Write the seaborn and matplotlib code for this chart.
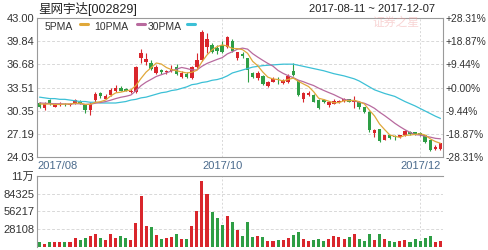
import numpy as np
import pandas as pd
import matplotlib
matplotlib.use("Agg")
import matplotlib.pyplot as plt
from matplotlib.lines import Line2D
import seaborn as sns

# ---------------- data ----------------
title = "星网宇达[002829]"
date_range = "2017-08-11 ~ 2017-12-07"
watermark = "证券之星"

opens = [31.4, 30.7, 31.8, 30.9, 31.2, 31.3, 31.1, 31.4, 31.6, 31.1,
         30.4, 31.8, 32.7, 32.0, 32.5, 33.0, 33.5, 33.3, 32.9, 32.9,
         37.5, 37.0, 36.9, 35.5, 35.9, 35.6, 35.7, 36.3, 34.9, 35.4,
         34.8, 36.3, 37.3, 39.1, 39.3, 38.9, 39.3, 39.1, 39.9, 37.6,
         38.1, 37.5, 35.5, 34.8, 35.1, 33.7, 34.3, 34.6, 34.1, 34.2,
         35.7, 34.5, 32.0, 32.45, 32.5, 31.8, 31.8, 31.1, 31.3, 31.55,
         31.7, 31.9, 31.6, 31.55, 30.8, 30.2, 27.25, 27.8, 26.4, 27.0,
         26.9, 26.7, 27.0, 27.5, 27.4, 27.3, 27.0, 26.3, 25.1, 25.1]
closes = [30.9, 31.3, 31.3, 31.2, 31.3, 31.2, 31.3, 31.8, 31.3, 30.4,
          31.3, 32.6, 32.3, 32.4, 33.2, 33.4, 33.1, 33.1, 33.1, 36.3,
          38.2, 37.4, 36.1, 36.3, 35.6, 35.8, 36.0, 35.3, 35.5, 34.9,
          36.3, 37.3, 41.1, 40.2, 38.4, 38.5, 38.4, 40.4, 38.5, 38.3,
          37.8, 35.9, 34.9, 35.5, 34.0, 34.3, 34.7, 34.5, 34.5, 35.1,
          35.2, 32.5, 32.7, 32.75, 31.6, 30.7, 31.6, 31.55, 31.7, 31.7,
          32.0, 31.6, 31.8, 30.8, 30.2, 27.7, 27.7, 26.25, 27.0, 26.6,
          26.7, 27.0, 27.6, 27.2, 27.1, 27.1, 26.1, 25.0, 25.4, 25.9]
highs = [31.6, 31.5, 32.0, 31.4, 31.5, 31.4, 31.4, 32.0, 31.8, 31.3,
         31.5, 32.9, 32.9, 32.6, 33.5, 33.8, 33.7, 33.5, 33.3, 36.4,
         38.8, 38.2, 37.2, 36.6, 36.0, 35.9, 36.6, 36.7, 35.7, 35.6,
         36.5, 38.2, 41.3, 40.9, 39.6, 39.3, 39.9, 40.6, 40.1, 38.4,
         38.3, 37.6, 35.6, 35.8, 35.2, 34.4, 34.9, 34.9, 34.7, 35.3,
         36.8, 34.6, 32.9, 33.0, 32.6, 31.9, 31.9, 31.7, 31.9, 31.8,
         32.1, 32.0, 32.4, 31.7, 30.9, 30.3, 27.9, 27.9, 27.1, 27.1,
         27.0, 27.1, 27.7, 27.6, 27.5, 27.4, 27.1, 26.4, 25.6, 26.0]
lows = [30.7, 30.5, 31.1, 30.8, 31.0, 31.0, 31.0, 31.3, 31.2, 30.0,
        29.8, 31.6, 32.1, 31.9, 32.4, 32.9, 33.0, 33.0, 32.8, 32.7,
        36.8, 36.6, 35.9, 35.4, 35.4, 35.4, 35.6, 35.2, 34.8, 34.8,
        34.7, 36.2, 37.1, 38.2, 38.2, 38.1, 38.2, 38.9, 38.3, 37.3,
        37.6, 34.3, 34.8, 34.6, 33.9, 33.6, 34.2, 34.0, 34.0, 34.1,
        35.1, 32.4, 31.6, 32.3, 31.5, 30.6, 31.4, 30.8, 31.2, 31.4,
        31.6, 31.5, 30.7, 30.6, 30.0, 27.5, 26.8, 26.1, 26.3, 26.5,
        26.3, 26.6, 26.9, 27.1, 27.0, 26.9, 26.0, 24.9, 25.0, 25.0]
volumes = [7300, 5200, 8400, 8400, 8400, 8400, 8400, 14700, 10500, 14700,
           17800, 21000, 13700, 11600, 20000, 14700, 17800, 13700, 11600, 37900,
           81000, 33600, 31600, 19400, 13100, 14700, 15400, 21000, 13100, 13100,
           33600, 57800, 104700, 84200, 55700, 45800, 35200, 49400, 39500, 27300,
           16700, 39500, 16000, 17800, 16000, 9900, 9900, 10500, 10500, 14700,
           19400, 23000, 13100, 9900, 10500, 13100, 9900, 13100, 17800, 15400,
           13100, 16000, 21000, 13100, 9900, 21000, 10500, 21000, 13100, 9900,
           7300, 9900, 11000, 8000, 12000, 9000, 14000, 17000, 8000, 10000]
ma30 = [32.2, 32.1, 32.0, 32.0, 31.9, 31.9, 31.8, 31.7, 31.6, 31.6,
        31.5, 31.5, 31.4, 31.4, 31.4, 31.4, 31.5, 31.6, 31.8, 31.9,
        32.1, 32.2, 32.4, 32.6, 32.8, 32.9, 33.1, 33.2, 33.4, 33.6,
        33.9, 34.0, 34.2, 34.3, 34.5, 34.6, 34.8, 35.1, 35.5, 35.7,
        35.9, 36.1, 36.3, 36.4, 36.5, 36.55, 36.6, 36.65, 36.7, 36.7,
        36.7, 36.55, 36.4, 36.25, 36.1, 35.95, 35.8, 35.6, 35.4, 35.25,
        35.1, 34.9, 34.7, 34.4, 34.0, 33.6, 33.2, 32.95, 32.7, 32.5,
        32.3, 31.95, 31.6, 31.3, 31.0, 30.65, 30.3, 29.95, 29.6, 29.3]
prior_closes = [31.8, 31.6, 31.5, 31.3, 31.6, 31.4, 31.2, 31.5, 31.3]

price_ticks = [24.03, 27.19, 30.35, 33.51, 36.68, 39.84, 43.00]
pct_labels = ["-28.31%", "-18.87%", "-9.44%", "+0.00%", "+9.44%", "+18.87%", "+28.31%"]
vol_ticks = [28108, 56217, 84325, 112433]
vol_labels = ["28108", "56217", "84325", "11万"]
month_labels = ["2017/08", "2017/10", "2017/12"]
month_idx = [0, 36, 75]
legend_names = ["5PMA", "10PMA", "30PMA"]

# ---------------- styling ----------------
RED = "#d9262c"
GREEN = "#2e9e45"
C5 = "#e0a83a"
C10 = "#b86a9e"
C30 = "#3cc0d6"
GRID = "#d8d8d8"
FRAME = "#9a9a9a"

sns.set_theme(style="white")
plt.rcParams["font.family"] = ["Liberation Sans", "Noto Sans CJK SC", "DejaVu Sans"]

n = len(closes)
idx = np.arange(n)
allc = pd.Series(prior_closes + closes)
df = pd.DataFrame({
    "idx": idx,
    "open": opens, "close": closes, "high": highs, "low": lows,
    "vol": volumes, "ma30": ma30,
    "ma5": allc.rolling(5).mean().values[len(prior_closes):],
    "ma10": allc.rolling(10).mean().values[len(prior_closes):],
})
df["dir"] = np.where(df["close"] >= df["open"], "up", "down")
colors = np.where(df["dir"] == "up", RED, GREEN)

W, H = 488, 250
fig = plt.figure(figsize=(W / 100, H / 100), dpi=100)
fig.patch.set_facecolor("white")

def fx(px):
    return px / W

def fy(py):
    return 1 - py / H

L, R = 37, 443
ax = fig.add_axes([fx(L), fy(157), fx(R - L), (157 - 18) / H])
axv = fig.add_axes([fx(L), fy(247), fx(R - L), (247 - 176) / H])

# ---- price panel ----
for a in (ax, axv):
    a.set_facecolor("white")
    for s in a.spines.values():
        s.set_color(FRAME)
        s.set_linewidth(0.8)
    for m in month_idx[1:]:
        a.axvline(m, color=GRID, lw=0.7, ls=(0, (2, 2)), zorder=0)

ax.vlines(df["idx"], df["low"], df["high"], colors=colors, lw=0.8, zorder=2)
body = np.maximum(np.abs(df["close"] - df["open"]), 0.07)
ax.bar(df["idx"], body, bottom=np.minimum(df["open"], df["close"]),
       width=0.7, color=colors, linewidth=0, zorder=3)

sns.lineplot(data=df, x="idx", y="ma30", ax=ax, color=C30, lw=0.9, zorder=4)
sns.lineplot(data=df, x="idx", y="ma10", ax=ax, color=C10, lw=0.9, zorder=4)
sns.lineplot(data=df, x="idx", y="ma5", ax=ax, color=C5, lw=0.9, zorder=5)

ax.set_xlim(-0.5, n - 0.5)
ax.set_ylim(price_ticks[0], price_ticks[-1])
ax.set_yticks(price_ticks)
ax.set_yticklabels([f"{t:.2f}" for t in price_ticks])
ax.set_xticks([])
ax.set_xlabel("")
ax.set_ylabel("")
for t in price_ticks[1:-1]:
    ax.axhline(t, color=GRID, lw=0.7, ls=(0, (3, 2)), zorder=0)
ax.tick_params(axis="y", length=0, pad=2, labelsize=8, labelcolor="#333333")

axr = ax.twinx()
axr.set_ylim(price_ticks[0], price_ticks[-1])
axr.set_yticks(price_ticks)
axr.set_yticklabels(pct_labels)
axr.tick_params(axis="y", length=0, pad=1.5, labelsize=7.4, labelcolor="#333333")
for s in axr.spines.values():
    s.set_visible(False)
axr.grid(False)

# month labels
for lab, m in zip(month_labels, month_idx):
    ha = "left" if m == 0 else "center"
    xpos = -0.5 if m == 0 else m
    ax.text(xpos, -0.065, lab, transform=ax.get_xaxis_transform(), ha=ha,
            va="center", fontsize=8, color="#4a6a8c")

# ---- volume panel ----
sns.barplot(data=df, x="idx", y="vol", hue="dir", palette={"up": RED, "down": GREEN},
            native_scale=True, width=0.6, dodge=False, errorbar=None, legend=False,
            ax=axv, linewidth=0, saturation=1)
axv.set_xlim(-0.5, n - 0.5)
axv.set_ylim(0, vol_ticks[-1])
axv.set_yticks(vol_ticks)
axv.set_yticklabels(vol_labels)
axv.set_xticks([])
axv.set_xlabel("")
axv.set_ylabel("")
for t in vol_ticks[:-1]:
    axv.axhline(t, color=GRID, lw=0.7, ls=(0, (3, 2)), zorder=0)
axv.tick_params(axis="y", length=0, pad=2, labelsize=8, labelcolor="#333333")
axv.spines["right"].set_visible(False)
axv.spines["bottom"].set_visible(False)

# ---- header texts ----
fig.text(fx(38), fy(9), title, fontsize=9, color="#222222", va="center", ha="left")
fig.text(fx(435), fy(9), date_range, fontsize=8, color="#222222", va="center", ha="right")
fig.text(fx(372), fy(23), watermark, fontsize=8.5, color="#f0a0a0", alpha=0.45,
         va="center", ha="left", style="italic")

# legend
leg_text_x = [45, 94, 148]
leg_mark_x = [(80, 88), (137, 145), (187, 195)]
for name, tx, (m0, m1), c in zip(legend_names, leg_text_x, leg_mark_x, [C5, C10, C30]):
    fig.text(fx(tx), fy(27), name, fontsize=7.5, color="#333333", va="center", ha="left")
    fig.add_artist(Line2D([fx(m0), fx(m1)], [fy(24), fy(24)], color=c, lw=2.2,
                          transform=fig.transFigure))

fig.savefig("out.png", dpi=100, facecolor="white")
